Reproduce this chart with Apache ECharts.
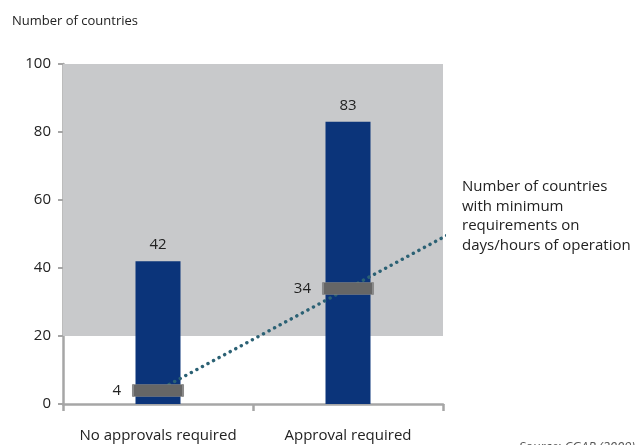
<!DOCTYPE html>
<html>
<head>
<meta charset="utf-8">
<script src="https://cdn.jsdelivr.net/npm/echarts@6/dist/echarts.min.js"></script>
<style>html,body{margin:0;padding:0;background:#fff}#c{width:643px;height:445px}</style>
</head>
<body>
<div id="c"></div>
<script>
const categories = ['No approvals required', 'Approval required'];
const countries = [42, 83];
const minRequirements = [4, 34];
// trend line points on hidden value axis (category centers at 0.5, 1.5)
const trendPoints = [[0.5, 4], [1.5, 34], [2.02, 49.6]];
const shadedBand = [20, 100];
const yTicks = { min: 0, max: 100, interval: 20 };
const annotation = 'Number of countries\nwith minimum\nrequirements on\ndays/hours of operation';

const FONT = 'Open Sans';
const chart = echarts.init(document.getElementById('c'), null, { renderer: 'canvas' });
chart.setOption({
  animation: false,
  textStyle: { fontFamily: FONT },
  grid: { left: 63, right: 200, top: 64, bottom: 41 },
  xAxis: [{
    type: 'category',
    data: categories,
    boundaryGap: true,
    axisLine: { lineStyle: { color: '#a6a6a6', width: 2.5 } },
    axisTick: { show: true, length: 7, lineStyle: { color: '#a6a6a6', width: 2.5 } },
    axisLabel: { color: '#222', fontSize: 15, margin: 24, interval: 0, fontFamily: FONT },
    splitLine: { show: false }
  }, {
    type: 'value', min: 0, max: 2, show: false
  }],
  yAxis: {
    type: 'value',
    min: yTicks.min, max: yTicks.max, interval: yTicks.interval,
    name: 'Number of countries',
    nameLocation: 'end',
    nameGap: 0,
    nameTextStyle: { color: '#222', fontSize: 13, align: 'left', padding: [0, 0, 36, -51], fontFamily: FONT },
    axisLine: { show: true, lineStyle: { color: '#a6a6a6', width: 2.5 } },
    axisTick: { show: true, length: 5, lineStyle: { color: '#a6a6a6', width: 2 } },
    axisLabel: { color: '#222', fontSize: 15, margin: 12, fontFamily: FONT },
    splitLine: { show: false }
  },
  series: [{
    type: 'line',
    xAxisIndex: 1,
    data: [],
    z: 0,
    silent: true,
    markArea: {
      silent: true,
      itemStyle: { color: '#c8c9cb' },
      data: [[{ coord: [0, shadedBand[1]] }, { coord: [2.016, shadedBand[0]] }]]
    }
  }, {
    type: 'bar',
    data: countries,
    barWidth: 45,
    z: 2,
    itemStyle: { color: '#0b347a' },
    label: { show: true, position: 'top', distance: 9, color: '#222', fontSize: 15, fontFamily: FONT }
  }, {
    type: 'line',
    xAxisIndex: 1,
    data: trendPoints,
    clip: false,
    z: 3,
    symbol: 'none',
    lineStyle: { color: '#2b6174', width: 3.4, type: [0.1, 6.2], cap: 'round' }
  }, {
    type: 'scatter',
    data: minRequirements,
    z: 10,
    symbol: 'rect',
    symbolSize: [50, 12],
    itemStyle: { color: '#666666', borderColor: '#8a8a8a', borderWidth: 1, opacity: 1 },
    label: { show: true, position: 'left', distance: 11, color: '#222', fontSize: 15, fontFamily: FONT }
  }],
  graphic: [{
    type: 'text',
    left: 462, top: 177,
    style: { text: annotation, fontSize: 15, lineHeight: 19.5, fill: '#222', fontFamily: FONT }
  }, {
    type: 'text',
    left: 519, top: 441,
    style: { text: 'Source: CGAP (2009)', fontSize: 13, fontStyle: 'italic', fill: '#555', fontFamily: FONT }
  }]
});
</script>
</body>
</html>
